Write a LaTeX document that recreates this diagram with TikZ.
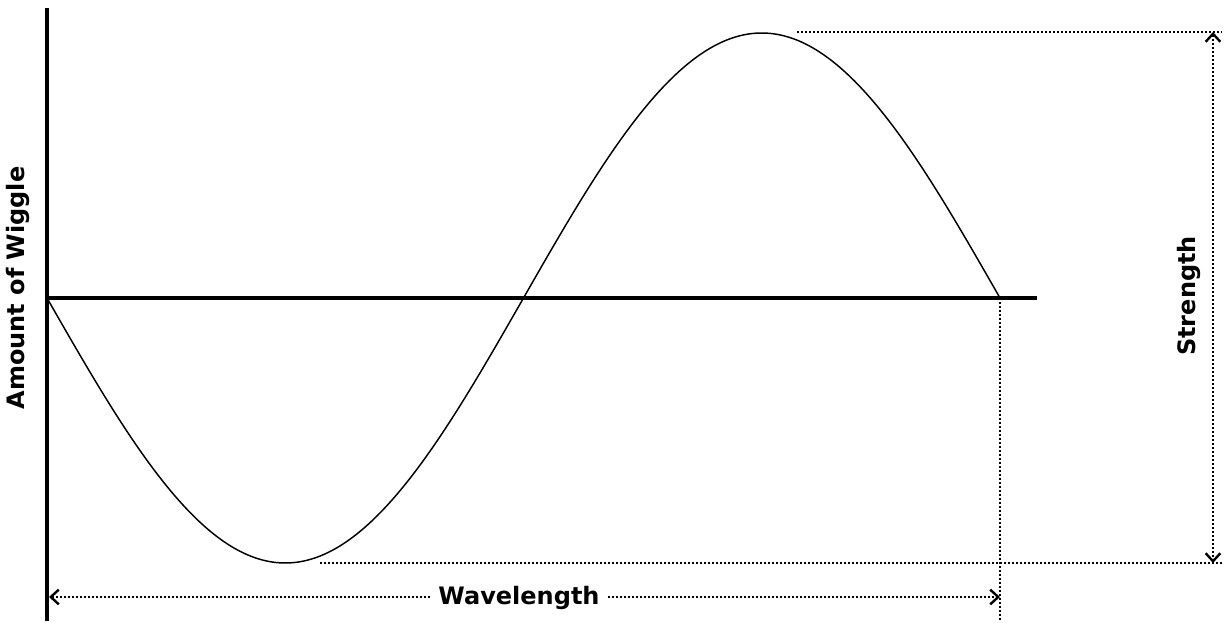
\documentclass[tikz,border=0pt]{standalone}
\usepackage{fontspec}
\setmainfont{DejaVu Sans}
\usetikzlibrary{arrows.meta}

\begin{document}
\begin{tikzpicture}[x=0.75pt,y=-0.75pt,>={Straight Barb[length=6pt,width=11pt,line width=1.8pt]},
  font=\bfseries\fontsize{18}{18}\selectfont,
  axis/.style={line width=3pt},
  dotline/.style={line width=1.8pt,dash pattern=on 1.5pt off 1.5pt},
  lbl/.style={fill=white,inner sep=6pt}]
\useasboundingbox (0,0) rectangle (1225,623);
% axes
\coordinate (O) at (47,298);
\coordinate (top) at (47,8);
\coordinate (bot) at (47,621);
\coordinate (xend) at (1037,298);
\draw[axis] (top) -- (bot);
\draw[axis] (O) -- (xend);
% the wave
\draw[line width=1.1pt] plot[domain=0:360,samples=200,smooth] ({47+\x*2.6472},{298+265*sin(\x)});
% guides
\coordinate (crest) at (797,32);
\coordinate (trough) at (320,563);
\coordinate (wend) at (1000,298);
\coordinate (wfoot) at (1000,621);
\coordinate (sTop) at (1213,32);
\coordinate (sBot) at (1213,563);
\coordinate (wL) at (49,597);
\coordinate (wR) at (1000,597);
\draw[dotline] (crest) -- (1222,32);
\draw[dotline] (trough) -- (1222,563);
\draw[dotline] (wend) -- (wfoot);
\draw[dotline,<->] (sTop) -- (sBot);
\draw[dotline,<->] (wL) -- (wR);
% labels
\node[lbl] (wave) at (519,598) {Wavelength};
\node[rotate=90] (amount) at (18,288) {Amount of Wiggle};
\node[rotate=90] (strength) at (1189,296) {Strength};
\end{tikzpicture}
\end{document}
